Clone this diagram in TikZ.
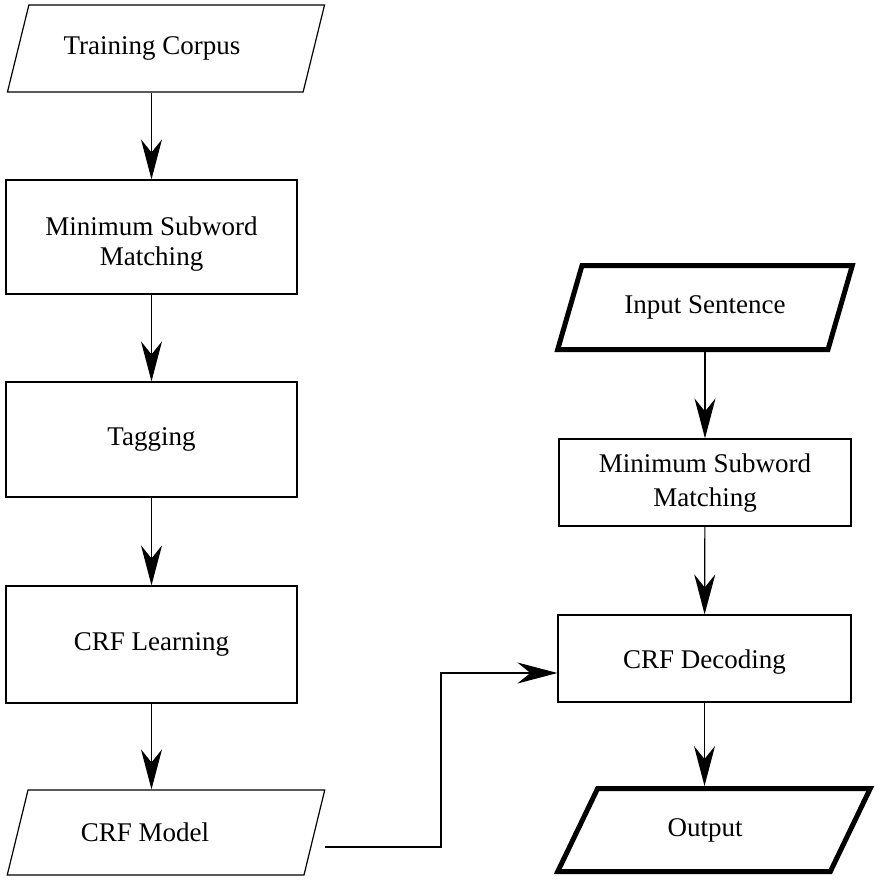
\documentclass[tikz,border=0pt]{standalone}
\usepackage{fontspec}
\setmainfont{Liberation Serif}
\usetikzlibrary{arrows.meta,shapes.geometric}

\newcommand{\twolines}[3]{\raisebox{0pt}[\dimexpr\height+#3\relax]{\begin{tabular}{@{}c@{}}#1\\#2\end{tabular}}}

\tikzset{
  boxtext/.style={font=\fontsize{27}{30}\selectfont, align=center, inner sep=0pt},
  procbox/.style={boxtext, draw, line width=1.2pt, rectangle},
  datanode/.style={boxtext, draw, line width=1.2pt, trapezium,
    trapezium left angle=56, trapezium right angle=124, trapezium stretches=true},
  iobold/.style={datanode, line width=5pt},
  flow/.style={line width=1.2pt, -{Stealth[length=40pt, width=21pt, inset=13pt]}}
}

\begin{document}
\begin{tikzpicture}[x=1pt, y=-1pt]
  \useasboundingbox (0,0) rectangle (881,880);

  % apprentissage
  \node[datanode, minimum width=318pt, minimum height=87pt] (corpus) at (166,48.5) {Training Corpus\hspace*{28pt}};
  \node[procbox, minimum width=291pt, minimum height=114pt] (match1) at (151.5,237) {\twolines{Minimum Subword}{Matching}{14pt}};
  \node[procbox, minimum width=291pt, minimum height=115pt] (tag) at (151.5,439.5) {Tagging};
  \node[procbox, minimum width=291pt, minimum height=117pt] (learn) at (151.5,644.5) {CRF Learning};
  \node[datanode, minimum width=318pt, minimum height=85pt] (model) at (166,832.5) {CRF Model\hspace*{42pt}};

  % decodage
  \node[iobold, minimum width=295pt, minimum height=84pt] (input) at (705,307.5) {Input Sentence};
  \node[procbox, minimum width=292pt, minimum height=87pt, font=\fontsize{27}{34}\selectfont] (match2) at (705,482.5) {\twolines{Minimum Subword}{Matching}{0pt}};
  \node[procbox, minimum width=293pt, minimum height=87pt] (decode) at (704.5,658.5) {\raisebox{0pt}[\dimexpr\height+8pt\relax]{CRF Decoding}};
  \node[iobold, minimum width=313pt, minimum height=83pt] (output) at (714,830) {Output\hspace*{18pt}};

  \draw[flow] (match1.north |- corpus.south) -- (match1.north);
  \draw[flow] (match1) -- (tag);
  \draw[flow] (tag) -- (learn);
  \draw[flow] (learn.south) -- (learn.south |- model.north);

  \draw[flow] (match2.north |- input.south) -- (match2.north);
  \draw[flow] (match2) -- (decode);
  \draw[flow] (decode.south) -- (decode.south |- output.north);

  \coordinate (modelout) at (325,847);
  \coordinate (turn) at (441,847);
  \draw[flow] (modelout) -- (turn) |- ([yshift=-14.5pt]decode.west);
\end{tikzpicture}
\end{document}
